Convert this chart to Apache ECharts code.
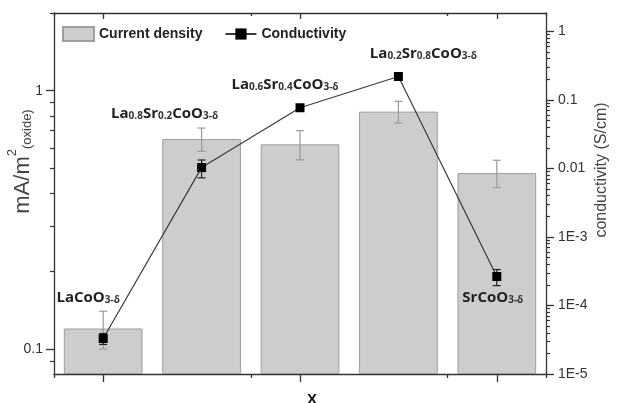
<!DOCTYPE html>
<html>
<head>
<meta charset="utf-8">
<script src="https://cdn.jsdelivr.net/npm/echarts@6/dist/echarts.min.js"></script>
<style>
  html, body { margin: 0; padding: 0; background: #fff; }
  #chart { width: 617px; height: 403px; }
</style>
</head>
<body>
<div id="chart"></div>
<script>
// Perovskite cobaltites: current density (bars, left log axis) and conductivity (line, right log axis)
const compounds = ['LaCoO3-δ', 'La0.8Sr0.2CoO3-δ', 'La0.6Sr0.4CoO3-δ', 'La0.2Sr0.8CoO3-δ', 'SrCoO3-δ'];
const compoundLabels = [
  '{m|LaCoO}{s|3-δ}',
  '{m|La}{s|0.8}{m|Sr}{s|0.2}{m|CoO}{s|3-δ}',
  '{m|La}{s|0.6}{m|Sr}{s|0.4}{m|CoO}{s|3-δ}',
  '{m|La}{s|0.2}{m|Sr}{s|0.8}{m|CoO}{s|3-δ}',
  '{m|SrCoO}{s|3-δ}'
];
const currentDensity = [0.12, 0.65, 0.62, 0.83, 0.48];
const currentDensityErr = [0.02, 0.067, 0.08, 0.08, 0.058];
const conductivity = [3.3e-5, 0.0103, 0.077, 0.22, 2.65e-4];
const conductivityErr = [0.6e-5, 0.003, 0, 0, 7e-5];

const leftMajorTicks = [0.1, 1];
const leftMinorTicks = [0.09, 0.2, 0.3, 0.4, 0.5, 0.6, 0.7, 0.8, 0.9, 2];
const rightMajorTicks = [1e-5, 1e-4, 1e-3, 0.01, 0.1, 1];

// minor ticks 2..9 within each decade of the conductivity axis
const rightMinorTicks = [];
rightMajorTicks.slice(0, -1).forEach(function (d) {
  for (let k = 2; k <= 9; k++) rightMinorTicks.push(+(d * k).toPrecision(3));
});

const AXIS_COLOR = '#333';
const labelOffsets = [[-15, -45], [-37, -58], [-15, -28], [25, -27], [-4, 17]];

const richFormula = {
  m: { fontFamily: 'Open Sans', fontWeight: 'bold', fontSize: 15, color: '#222', lineHeight: 24, verticalAlign: 'bottom' },
  s: { fontFamily: 'Open Sans', fontWeight: 'bold', fontSize: 10, color: '#333', lineHeight: 10, verticalAlign: 'bottom' }
};

function errorBarRenderer(color) {
  return function (params, api) {
    const x = api.value(0);
    const lo = api.coord([x, api.value(1)]);
    const hi = api.coord([x, api.value(2)]);
    const hw = 4;
    const style = { stroke: color, lineWidth: 1.2, fill: null };
    return {
      type: 'group',
      children: [
        { type: 'line', shape: { x1: lo[0], y1: lo[1], x2: hi[0], y2: hi[1] }, style: style },
        { type: 'line', shape: { x1: hi[0] - hw, y1: hi[1], x2: hi[0] + hw, y2: hi[1] }, style: style },
        { type: 'line', shape: { x1: lo[0] - hw, y1: lo[1], x2: lo[0] + hw, y2: lo[1] }, style: style }
      ]
    };
  };
}

const densityErrData = currentDensity.map(function (v, i) {
  return [i, v - currentDensityErr[i], v + currentDensityErr[i]];
});
const condErrData = [];
conductivity.forEach(function (v, i) {
  if (conductivityErr[i] > 0) condErrData.push([i, v - conductivityErr[i], v + conductivityErr[i]]);
});

const lineData = conductivity.map(function (v, i) {
  return {
    value: v,
    label: {
      show: true,
      position: 'inside',
      offset: labelOffsets[i],
      formatter: compoundLabels[i],
      rich: richFormula,
      align: 'center',
      verticalAlign: 'middle'
    }
  };
});

const chart = echarts.init(document.getElementById('chart'), null, { renderer: 'canvas' });

const catAxisBase = {
  type: 'category',
  data: compounds,
  boundaryGap: true,
  axisLabel: { show: false },
  splitLine: { show: false }
};

chart.setOption({
  animation: false,
  backgroundColor: '#fff',
  grid: { left: 54, right: 71, top: 13, bottom: 29, containLabel: false, outerBoundsMode: 'none' },
  legend: {
    left: 62,
    top: 26,
    padding: 0,
    itemWidth: 31,
    itemHeight: 14,
    itemGap: 22,
    textStyle: { fontFamily: 'Liberation Sans', fontWeight: 'bold', fontSize: 14, color: '#222' },
    data: [
      { name: 'Current density', icon: 'rect' },
      { name: 'Conductivity' }
    ]
  },
  xAxis: [
    Object.assign({}, catAxisBase, {
      position: 'bottom',
      name: 'X',
      nameLocation: 'middle',
      nameGap: 18,
      nameMoveOverlap: false,
      nameTextStyle: { fontFamily: 'Liberation Sans', fontWeight: 'bold', fontSize: 15, color: '#111', padding: [0, 0, 0, 24], verticalAlign: 'top' },
      axisLine: { show: true, lineStyle: { color: AXIS_COLOR, width: 1.3 } },
      axisTick: { show: true, alignWithLabel: true, length: 8, lineStyle: { color: AXIS_COLOR, width: 1.3 } }
    }),
    Object.assign({}, catAxisBase, {
      position: 'bottom',
      axisLine: { show: false },
      axisTick: { show: true, length: 4, lineStyle: { color: AXIS_COLOR, width: 1.3 } }
    }),
    Object.assign({}, catAxisBase, {
      position: 'top',
      axisLine: { show: true, lineStyle: { color: AXIS_COLOR, width: 1.3 } },
      axisTick: { show: true, inside: true, alignWithLabel: true, length: 6, lineStyle: { color: AXIS_COLOR, width: 1.3 } }
    }),
    Object.assign({}, catAxisBase, {
      position: 'top',
      axisLine: { show: false },
      axisTick: { show: true, inside: true, length: 3, lineStyle: { color: AXIS_COLOR, width: 1.3 } }
    })
  ],
  yAxis: [
    {
      type: 'log',
      logBase: 10,
      position: 'left',
      min: 0.08,
      max: 2,
      startValue: 0.08,
      name: '{b|mA/m}{sup|2}{sub|(oxide)}',
      nameLocation: 'middle',
      nameRotate: 90,
      nameGap: 20,
      nameMoveOverlap: false,
      nameTextStyle: {
        padding: [0, 0, 0, 64],
        rich: {
          b: { fontFamily: 'Liberation Sans', fontSize: 22, color: '#444', lineHeight: 28, verticalAlign: 'bottom' },
          sup: { fontFamily: 'Liberation Sans', fontSize: 13, color: '#444', lineHeight: 14, verticalAlign: 'top' },
          sub: { fontFamily: 'Liberation Sans', fontSize: 13, color: '#444', lineHeight: 12, verticalAlign: 'bottom' }
        }
      },
      axisLine: { show: true, lineStyle: { color: AXIS_COLOR, width: 1.3 } },
      axisTick: { show: true, length: 8, customValues: leftMajorTicks, lineStyle: { color: AXIS_COLOR, width: 1.3 } },
      axisLabel: {
        customValues: leftMajorTicks,
        margin: 11,
        fontFamily: 'Liberation Sans',
        fontSize: 14,
        color: '#333',
        formatter: function (v) { return String(+v.toPrecision(3)); }
      },
      splitLine: { show: false },
      minorTick: { show: false }
    },
    {
      // same scale as the current-density axis; carries the minor ticks
      type: 'log',
      logBase: 10,
      position: 'left',
      min: 0.08,
      max: 2,
      axisLine: { show: false },
      axisTick: { show: true, length: 4, customValues: leftMinorTicks, lineStyle: { color: AXIS_COLOR, width: 1.2 } },
      axisLabel: { show: false },
      splitLine: { show: false }
    },
    {
      type: 'log',
      logBase: 10,
      position: 'right',
      min: 1e-5,
      max: 1.86,
      name: 'conductivity (S/cm)',
      nameLocation: 'middle',
      nameRotate: 90,
      nameGap: 48,
      nameMoveOverlap: false,
      nameTextStyle: { fontFamily: 'Liberation Sans', fontSize: 16, color: '#444', padding: [0, 0, 0, 47] },
      axisLine: { show: true, lineStyle: { color: AXIS_COLOR, width: 1.3 } },
      axisTick: { show: true, length: 8, customValues: rightMajorTicks, lineStyle: { color: AXIS_COLOR, width: 1.3 } },
      axisLabel: {
        customValues: rightMajorTicks,
        margin: 12,
        fontFamily: 'Liberation Sans',
        fontSize: 14,
        color: '#333',
        formatter: function (v) {
          return v >= 0.01 ? String(+v.toPrecision(3)) : '1E' + Math.round(Math.log10(v));
        }
      },
      splitLine: { show: false }
    },
    {
      // same scale as the conductivity axis; carries the minor ticks
      type: 'log',
      logBase: 10,
      position: 'right',
      min: 1e-5,
      max: 1.86,
      axisLine: { show: false },
      axisTick: { show: true, length: 4, customValues: rightMinorTicks, lineStyle: { color: AXIS_COLOR, width: 1.2 } },
      axisLabel: { show: false },
      splitLine: { show: false }
    }
  ],
  series: [
    {
      name: 'Current density',
      type: 'bar',
      xAxisIndex: 0,
      yAxisIndex: 0,
      barWidth: '80%',
      data: currentDensity,
      itemStyle: { color: '#cdcdcd', borderColor: '#9e9e9e', borderWidth: 1 },
      z: 2
    },
    {
      name: 'Current density error',
      type: 'custom',
      xAxisIndex: 0,
      yAxisIndex: 1,
      renderItem: errorBarRenderer('#9a9a9a'),
      encode: { x: 0, y: [1, 2] },
      data: densityErrData,
      silent: true,
      z: 3
    },
    {
      name: 'Conductivity error',
      type: 'custom',
      xAxisIndex: 0,
      yAxisIndex: 3,
      renderItem: errorBarRenderer('#222'),
      encode: { x: 0, y: [1, 2] },
      data: condErrData,
      silent: true,
      z: 4
    },
    {
      name: 'Conductivity',
      type: 'line',
      xAxisIndex: 0,
      yAxisIndex: 2,
      data: lineData,
      symbol: 'rect',
      symbolSize: 9,
      lineStyle: { color: '#3a3a3a', width: 1.2 },
      itemStyle: { color: '#000' },
      z: 5
    }
  ]
});
</script>
</body>
</html>
